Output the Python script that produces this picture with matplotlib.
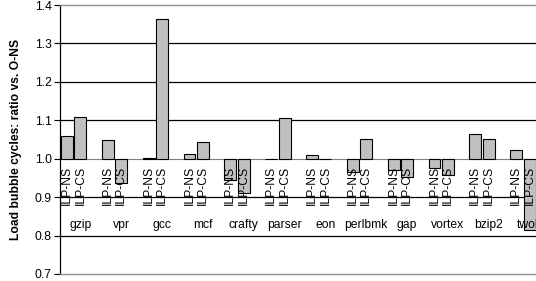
import matplotlib
matplotlib.use("Agg")
import matplotlib.pyplot as plt
import numpy as np

plt.rcParams["font.family"] = ["Liberation Sans", "DejaVu Sans"]

benchmarks = ["gzip", "vpr", "gcc", "mcf", "crafty", "parser", "eon",
              "perlbmk", "gap", "vortex", "bzip2", "twolf"]
ilp_ns = [1.058, 1.048, 1.003, 1.013, 0.945, 0.999, 1.009,
          0.965, 0.971, 0.976, 1.064, 1.023]
ilp_cs = [1.108, 0.937, 1.364, 1.043, 0.912, 1.107, 1.000,
          1.051, 0.952, 0.958, 1.051, 0.815]
series_names = ["ILP-NS", "ILP-CS"]
yticks = [0.7, 0.8, 0.9, 1.0, 1.1, 1.2, 1.3, 1.4]
ylabel = "Load bubble cycles: ratio vs. O-NS"

fig = plt.figure(figsize=(5.36, 2.81), dpi=100)
ax = fig.add_axes([60 / 536, 1 - 274 / 281, 490 / 536, 269 / 281])

x = np.arange(len(benchmarks))
base = 1.0
offsets = [-0.33, 0.0]
width = 0.29
fs = 8.7

for vals, off, name in zip([ilp_ns, ilp_cs], offsets, series_names):
    h = np.array(vals) - base
    ax.bar(x + off, h, width, bottom=base, color="#c0c0c0",
           edgecolor="black", linewidth=0.8, zorder=3)
    for xi in x:
        ax.text(xi + off, 0.93, name, rotation=90, ha="center", va="center",
                fontsize=fs, zorder=5)

for xi, b in zip(x, benchmarks):
    ax.text(xi, 0.828, b, ha="center", va="center", fontsize=fs, zorder=5)

for yv in yticks:
    if yv in (0.7, 1.4):
        continue
    if abs(yv - 1.0) < 1e-9:
        ax.axhline(yv, color="#808080", lw=0.8, zorder=2)
    else:
        ax.axhline(yv, color="black", lw=0.9, zorder=2)

ax.set_xlim(-0.5, len(benchmarks) - 0.5)
ax.set_ylim(0.7, 1.4)
ax.set_yticks(yticks)
ax.set_yticklabels([f"{v:.1f}" for v in yticks], fontsize=fs)
ax.set_xticks([])
ax.tick_params(axis="y", direction="out", length=4, width=0.8, pad=2)
ax.set_ylabel(ylabel, fontsize=fs, fontweight="bold", labelpad=9)

ax.spines["left"].set_color("black")
ax.spines["left"].set_linewidth(0.9)
ax.spines["right"].set_visible(False)
ax.spines["top"].set_color("#909090")
ax.spines["bottom"].set_color("#909090")
ax.spines["top"].set_linewidth(1.0)
ax.spines["bottom"].set_linewidth(1.0)

fig.savefig("out.png", dpi=100)
